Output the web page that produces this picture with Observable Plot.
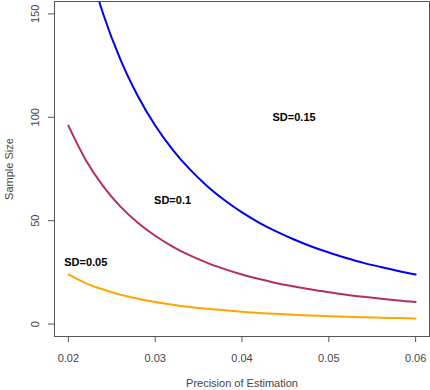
<!DOCTYPE html>
<html><head><meta charset="utf-8">
<script src="https://cdn.jsdelivr.net/npm/d3@7"></script>
<script src="https://cdn.jsdelivr.net/npm/@observablehq/plot@0.6"></script>
<style>body{margin:0;background:#fff} svg{display:block}</style>
</head><body><div id="chart"></div>
<script>
const precision = [0.020,0.022,0.024,0.026,0.028,0.030,0.032,0.034,0.036,0.038,0.040,0.042,0.044,0.046,0.048,0.050,0.052,0.054,0.056,0.058,0.060];
const sd005 = [24.0,19.8,16.7,14.2,12.3,10.7,9.4,8.3,7.4,6.7,6.0,5.4,5.0,4.5,4.2,3.8,3.6,3.3,3.1,2.9,2.7];
const sd010 = [96.0,79.4,66.7,56.8,49.0,42.7,37.5,33.2,29.6,26.6,24.0,21.8,19.8,18.2,16.7,15.4,14.2,13.2,12.3,11.4,10.7];
const sd015 = [216.1,178.6,150.1,127.9,110.3,96.0,84.4,74.8,66.7,59.9,54.0,49.0,44.7,40.9,37.5,34.6,32.0,29.6,27.6,25.7,24.0];
const seriesNames = ["SD=0.05","SD=0.1","SD=0.15"];
const seriesColors = ["#FFA500","#B03060","#0000EE"];
const labelX = [0.022,0.032,0.046];
const labelY = [30,60,100];
const xTicks = [0.02,0.03,0.04,0.05,0.06];
const yTicks = [0,50,100,150];
const xTitle = "Precision of Estimation";
const yTitle = "Sample Size";

const allSeries = [sd005, sd010, sd015];
const rows = [];
allSeries.forEach((vals, i) => vals.forEach((v, j) => rows.push({series: seriesNames[i], x: precision[j], y: v})));
const labels = seriesNames.map((s, i) => ({series: s, x: labelX[i], y: labelY[i]}));

const font = "'Liberation Sans', Arial, sans-serif";
const chart = Plot.plot({
  width: 430, height: 390,
  marginLeft: 54, marginRight: 1, marginTop: 1, marginBottom: 54,
  style: {fontFamily: font, fontSize: "11px", background: "#fff"},
  x: {domain: [0.0184, 0.0616]},
  y: {domain: [-6, 156]},
  color: {domain: seriesNames, range: seriesColors},
  marks: [
    Plot.line(rows, {x: "x", y: "y", z: "series", stroke: "series", strokeWidth: 2, curve: "monotone-x", clip: true}),
    Plot.text(labels, {x: "x", y: "y", text: "series", fontWeight: "bold", fontSize: 11, fill: "#000"}),
    Plot.frame({stroke: "#555"}),
    Plot.axisX(xTicks, {tickSize: 6, tickPadding: 12, tickFormat: d3.format(".2f"), label: null, stroke: "#555", fill: "#444", fontSize: 11}),
    Plot.axisY(yTicks, {tickSize: 6, tickFormat: () => "", label: null, stroke: "#555"}),
    Plot.text(yTicks, {y: d => d, frameAnchor: "left", dx: -19, rotate: -90, textAnchor: "middle", lineAnchor: "middle", text: d => String(d), fill: "#444", fontSize: 11}),
    Plot.text([xTitle], {frameAnchor: "bottom", dy: 47, textAnchor: "middle", lineAnchor: "middle", text: d => d, fill: "#444", fontSize: 11}),
    Plot.text([yTitle], {frameAnchor: "left", dx: -45, rotate: -90, textAnchor: "middle", lineAnchor: "middle", text: d => d, fill: "#444", fontSize: 11})
  ]
});
document.getElementById("chart").appendChild(chart);
</script>
</body></html>
